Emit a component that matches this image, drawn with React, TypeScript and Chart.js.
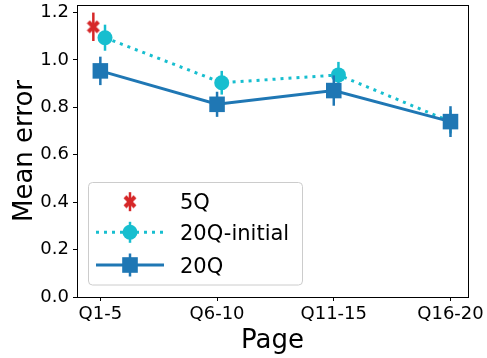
import React, { useEffect, useRef } from 'react';
import { Chart, registerables } from 'chart.js';
Chart.register(...registerables);

const categories = ['Q1-5', 'Q6-10', 'Q11-15', 'Q16-20'];
const yTickValues = [0, 0.2, 0.4, 0.6, 0.8, 1.0, 1.2];
const xTickValues = [0, 1, 2, 3];

const fiveQX = [-0.06];
const fiveQMean = [1.14];
const fiveQErr = [0.06];

const initialX = [0.04, 1.04, 2.04, 3.0];
const initialMean = [1.094, 0.904, 0.937, 0.74];
const initialErr = [0.055, 0.05, 0.055, 0.05];

const finalX = [0, 1, 2, 3];
const finalMean = [0.954, 0.813, 0.871, 0.74];
const finalErr = [0.06, 0.053, 0.064, 0.065];

const seriesNames = ['5Q', '20Q-initial', '20Q'];
const RED = '#d62728';
const CYAN = '#17becf';
const BLUE = '#1f77b4';
const FONT = '"DejaVu Sans", sans-serif';

function makeXMarker(color: string) {
  const c = document.createElement('canvas');
  c.width = 14;
  c.height = 14;
  const g = c.getContext('2d')!;
  g.strokeStyle = color;
  g.lineWidth = 4.2;
  g.beginPath();
  g.moveTo(2, 2);
  g.lineTo(12, 12);
  g.moveTo(12, 2);
  g.lineTo(2, 12);
  g.stroke();
  return c;
}

const errorBarPlugin = {
  id: 'errorBars',
  beforeDatasetDraw(chart: any, args: any) {
    const ds = chart.data.datasets[args.index];
    if (!ds.errors) return;
    const ys = chart.scales.y;
    const ctx = chart.ctx;
    ctx.save();
    ctx.strokeStyle = ds.errColor;
    ctx.lineWidth = 2.5;
    args.meta.data.forEach((el: any, i: number) => {
      const v = ds.data[i].y;
      const e = ds.errors[i];
      ctx.beginPath();
      ctx.moveTo(el.x, ys.getPixelForValue(v + e));
      ctx.lineTo(el.x, ys.getPixelForValue(v - e));
      ctx.stroke();
    });
    ctx.restore();
  },
};

const framePlugin = {
  id: 'frame',
  afterDatasetsDraw(chart: any) {
    const { ctx, chartArea: a } = chart;
    ctx.save();
    ctx.strokeStyle = '#000';
    ctx.lineWidth = 1;
    ctx.strokeRect(Math.round(a.left) + 0.5, Math.round(a.top) + 0.5, Math.round(a.right - a.left), Math.round(a.bottom - a.top));
    ctx.restore();
  },
};

function makeOverlayPlugin(xImg: HTMLCanvasElement) {
  return {
    id: 'overlay',
    afterDraw(chart: any) {
      const { ctx, chartArea: a } = chart;
      ctx.save();
      // axis titles
      ctx.fillStyle = '#000';
      ctx.font = `26px ${FONT}`;
      ctx.textAlign = 'center';
      ctx.textBaseline = 'alphabetic';
      ctx.fillText('Page', (a.left + a.right) / 2, 347.5);
      ctx.save();
      ctx.translate(31.5, (a.top + a.bottom) / 2);
      ctx.rotate(-Math.PI / 2);
      ctx.fillText('Mean error', 0, 0);
      ctx.restore();

      // legend box
      ctx.beginPath();
      (ctx as any).roundRect(88.5, 182.5, 214, 102.5, 4);
      ctx.fillStyle = 'rgba(255,255,255,0.8)';
      ctx.fill();
      ctx.strokeStyle = '#cccccc';
      ctx.lineWidth = 1;
      ctx.stroke();

      const hx = 130;
      const rows = [201.7, 232.3, 265];
      // row 1: 5Q
      ctx.strokeStyle = RED;
      ctx.lineWidth = 2.5;
      ctx.beginPath();
      ctx.moveTo(hx, rows[0] - 9.5);
      ctx.lineTo(hx, rows[0] + 9.5);
      ctx.stroke();
      ctx.drawImage(xImg, hx - 7, rows[0] - 7);
      // row 2: 20Q-initial
      ctx.strokeStyle = CYAN;
      ctx.lineWidth = 3;
      ctx.setLineDash([3, 5]);
      ctx.beginPath();
      ctx.moveTo(96, rows[1]);
      ctx.lineTo(164, rows[1]);
      ctx.stroke();
      ctx.setLineDash([]);
      ctx.lineWidth = 2.5;
      ctx.beginPath();
      ctx.moveTo(hx, rows[1] - 10.5);
      ctx.lineTo(hx, rows[1] + 10.5);
      ctx.stroke();
      ctx.fillStyle = CYAN;
      ctx.beginPath();
      ctx.arc(hx, rows[1], 7.5, 0, Math.PI * 2);
      ctx.fill();
      // row 3: 20Q
      ctx.strokeStyle = BLUE;
      ctx.lineWidth = 3;
      ctx.beginPath();
      ctx.moveTo(96, rows[2]);
      ctx.lineTo(164, rows[2]);
      ctx.stroke();
      ctx.lineWidth = 2.5;
      ctx.beginPath();
      ctx.moveTo(hx, rows[2] - 11.5);
      ctx.lineTo(hx, rows[2] + 11.5);
      ctx.stroke();
      ctx.fillStyle = BLUE;
      ctx.fillRect(hx - 7.8, rows[2] - 7.8, 15.6, 15.6);

      // legend text
      ctx.fillStyle = '#000';
      ctx.font = `21px ${FONT}`;
      ctx.textAlign = 'left';
      ctx.textBaseline = 'alphabetic';
      const baselines = [209.3, 240.3, 273];
      seriesNames.forEach((n, i) => ctx.fillText(n, 180, baselines[i]));
      ctx.restore();
    },
  };
}

export default function App() {
  const ref = useRef<HTMLCanvasElement>(null);
  useEffect(() => {
    const xImg = makeXMarker(RED);
    const tickFont = { family: FONT, size: 18 };
    const chart = new Chart(ref.current!, {
      type: 'line',
      data: {
        datasets: [
          {
            label: '20Q',
            data: finalX.map((x, i) => ({ x, y: finalMean[i] })),
            errors: finalErr,
            errColor: BLUE,
            borderColor: BLUE,
            borderWidth: 3,
            pointStyle: 'rect',
            pointRadius: 11,
            pointBackgroundColor: BLUE,
            pointBorderWidth: 0,
            tension: 0,
            fill: false,
          } as any,
          {
            label: '20Q-initial',
            data: initialX.map((x, i) => ({ x, y: initialMean[i] })),
            errors: initialErr,
            errColor: CYAN,
            borderColor: CYAN,
            borderWidth: 3,
            borderDash: [3, 5],
            pointStyle: 'circle',
            pointRadius: 7.5,
            pointBackgroundColor: CYAN,
            pointBorderWidth: 0,
            tension: 0,
            fill: false,
          } as any,
          {
            label: '5Q',
            data: fiveQX.map((x, i) => ({ x, y: fiveQMean[i] })),
            errors: fiveQErr,
            errColor: RED,
            showLine: false,
            pointStyle: xImg,
            pointRadius: 7,
            borderColor: RED,
            backgroundColor: RED,
          } as any,
        ],
      },
      options: {
        animation: false,
        responsive: true,
        maintainAspectRatio: false,
        devicePixelRatio: 1,
        layout: { autoPadding: false, padding: { top: 5, right: 19, left: 0, bottom: 0 } },
        plugins: { legend: { display: false }, tooltip: { enabled: false } },
        scales: {
          x: {
            type: 'linear',
            min: -0.2,
            max: 3.15,
            afterBuildTicks: (s: any) => {
              s.ticks = xTickValues.map((v) => ({ value: v }));
            },
            afterFit: (s: any) => {
              s.height = 61;
              s.paddingLeft = 0;
              s.paddingRight = 0;
            },
            ticks: {
              callback: (v: any) => categories[Math.round(Number(v))],
              font: tickFont,
              color: '#000',
              padding: 3,
              maxRotation: 0,
              autoSkip: false,
            },
            grid: { drawOnChartArea: false, drawTicks: true, tickLength: 4, color: '#000', lineWidth: 1 },
            border: { display: true, color: '#000', width: 1 },
          },
          y: {
            type: 'linear',
            min: 0,
            max: 1.232,
            afterBuildTicks: (s: any) => {
              s.ticks = yTickValues.map((v) => ({ value: v }));
            },
            afterFit: (s: any) => {
              s.width = 77;
              s.paddingTop = 0;
              s.paddingBottom = 0;
            },
            ticks: {
              callback: (v: any) => Number(v).toFixed(1),
              font: tickFont,
              color: '#000',
              padding: 4,
            },
            grid: { drawOnChartArea: false, drawTicks: true, tickLength: 4, color: '#000', lineWidth: 1 },
            border: { display: true, color: '#000', width: 1 },
          },
        },
      } as any,
      plugins: [errorBarPlugin, framePlugin, makeOverlayPlugin(xImg)],
    });
    return () => chart.destroy();
  }, []);
  return (
    <div style={{ position: 'absolute', left: 0, top: 0, width: 487, height: 358 }}>
      <canvas ref={ref} />
    </div>
  );
}
